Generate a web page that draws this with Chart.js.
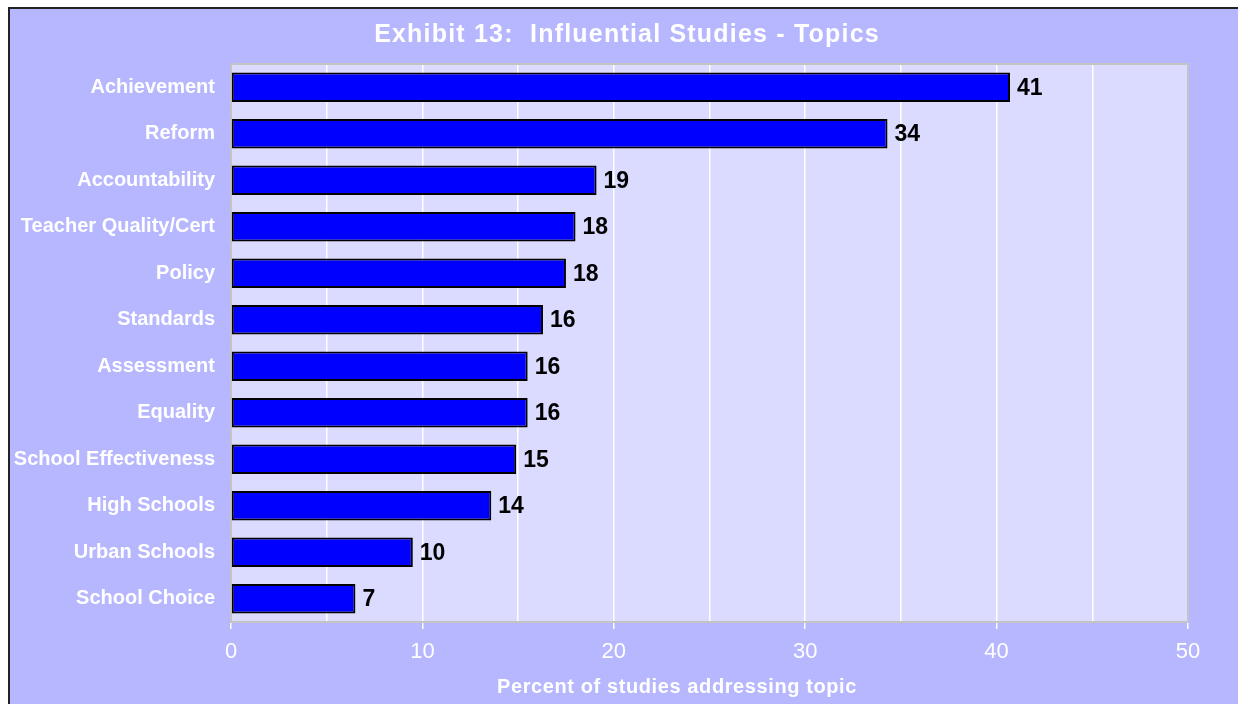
<!DOCTYPE html>
<html>
<head>
<meta charset="utf-8">
<script src="https://cdn.jsdelivr.net/npm/chart.js@4"></script>
<style>
  html, body { margin: 0; padding: 0; background: #fff; overflow: hidden; }
  #frame {
    position: absolute; left: 8px; top: 7px;
    width: 1240px; height: 710px;
    border: 2px solid #222; background: #b7b7ff;
  }
  canvas { display: block; }
</style>
</head>
<body>
<div id="frame"><canvas id="chart" width="1228" height="695"></canvas></div>
<script>
const topics = [
  'Achievement', 'Reform', 'Accountability', 'Teacher Quality/Cert', 'Policy',
  'Standards', 'Assessment', 'Equality', 'School Effectiveness', 'High Schools',
  'Urban Schools', 'School Choice'
];
const percents = [40.7, 34.3, 19.1, 18.0, 17.5, 16.3, 15.5, 15.5, 14.9, 13.6, 9.5, 6.5];
const xTicks = [0, 10, 20, 30, 40, 50];
const chartTitle = 'Exhibit 13:  Influential Studies - Topics';
const xTitle = 'Percent of studies addressing topic';

const FONT = "'Liberation Sans', Arial, sans-serif";

// plot background + grey frame, under the bars
const plotFrame = {
  id: 'plotFrame',
  beforeDraw(chart) {
    const { ctx, chartArea: a } = chart;
    ctx.save();
    ctx.fillStyle = '#dbdbff';
    ctx.fillRect(a.left, a.top, a.right - a.left, a.bottom - a.top);
    ctx.restore();
  },
  beforeDatasetsDraw(chart) {
    const { ctx, chartArea: a } = chart;
    ctx.save();
    ctx.strokeStyle = '#c4c4c4';
    ctx.lineWidth = 2;
    ctx.strokeRect(a.left, a.top, a.right - a.left, a.bottom - a.top);
    ctx.restore();
  }
};

// rounded value labels at bar ends, chart title and x axis title
const barLabels = {
  id: 'barLabels',
  afterDatasetsDraw(chart) {
    const { ctx } = chart;
    const meta = chart.getDatasetMeta(0);
    ctx.save();
    ctx.font = `bold 23px ${FONT}`;
    ctx.fillStyle = '#000';
    ctx.textBaseline = 'middle';
    ctx.textAlign = 'left';
    meta.data.forEach((bar, i) => {
      ctx.fillText(String(Math.round(percents[i])), bar.x + 7, bar.y + 1);
    });

    ctx.fillStyle = '#fff';
    ctx.textAlign = 'center';
    ctx.font = `bold 20px ${FONT}`;
    ctx.letterSpacing = '0.6px';
    ctx.fillText(xTitle, 667, 678);

    ctx.font = `bold 25px ${FONT}`;
    ctx.letterSpacing = '1.2px';
    ctx.textBaseline = 'alphabetic';
    ctx.fillText(chartTitle, 617, 33);
    ctx.restore();
  }
};

new Chart(document.getElementById('chart'), {
  type: 'bar',
  data: {
    labels: topics,
    datasets: [{
      data: percents,
      backgroundColor: '#0000ff',
      borderColor: '#000',
      borderWidth: 2,
      borderSkipped: false,
      barPercentage: 0.63,
      categoryPercentage: 1
    }]
  },
  plugins: [plotFrame, barLabels],
  options: {
    indexAxis: 'y',
    responsive: false,
    animation: false,
    devicePixelRatio: 1,
    layout: { padding: { left: 0, right: 50, top: 55, bottom: 0 } },
    plugins: {
      legend: { display: false },
      tooltip: { enabled: false },
      title: { display: false }
    },
    scales: {
      x: {
        min: 0, max: 50,
        afterFit: s => { s.height = 82; },
        ticks: {
          stepSize: 5,
          autoSkip: false,
          maxRotation: 0,
          padding: 10,
          color: '#fff',
          font: { family: FONT, size: 22 },
          callback: v => xTicks.includes(v) ? v : ''
        },
        grid: {
          lineWidth: 1.5,
          tickLength: 7,
          color: c => (c.tick && c.tick.value % 5 === 0 && c.tick.value > 0 && c.tick.value < 50) ? '#ffffff' : 'rgba(0,0,0,0)',
          tickColor: c => (c.tick && xTicks.includes(c.tick.value)) ? '#ffffff' : 'rgba(0,0,0,0)'
        },
        border: { display: false }
      },
      y: {
        afterFit: s => { s.width = 221; },
        ticks: {
          padding: 16,
          color: '#fff',
          font: { family: FONT, size: 20, weight: 'bold' }
        },
        grid: { display: false, drawTicks: false },
        border: { display: false }
      }
    }
  }
});
</script>
</body>
</html>
